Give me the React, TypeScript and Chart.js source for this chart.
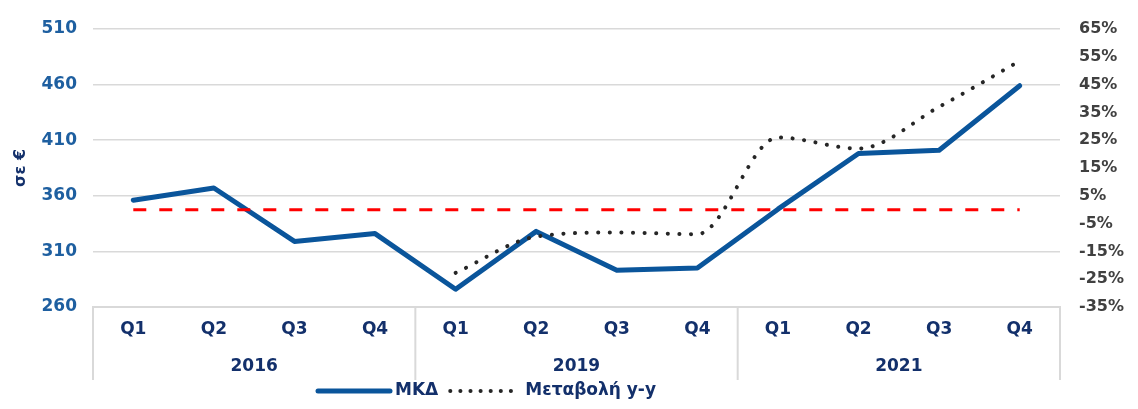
import React, { useEffect, useRef } from "react";
import { Chart, registerables } from "chart.js";

Chart.register(...registerables);

// ---- data ----
const quarters = ["Q1", "Q2", "Q3", "Q4", "Q1", "Q2", "Q3", "Q4", "Q1", "Q2", "Q3", "Q4"];
const years = ["2016", "2019", "2021"];
const mkdValues = [356, 367, 319, 326, 276, 328, 293, 295, 348, 398, 401, 459];
const yoyValues: (number | null)[] = [null, null, null, null, -22.7, -9.7, -8.2, -8.8, 26, 22, 37, 53.5];
const zeroLine = [0, 0, 0, 0, 0, 0, 0, 0, 0, 0, 0, 0];
const leftMin = 260;
const leftMax = 510;
const leftStep = 50;
const rightMin = -35;
const rightMax = 65;
const rightStep = 10;
const mkdLabel = "ΜΚΔ";
const yoyLabel = "Μεταβολή y-y";
const leftTitle = "σε €";

const FONT = "'DejaVu Sans', Verdana, sans-serif";
const NAVY = "#13306B";
const BLUE = "#0A559B";
const LEFT_TICK = "#1E5FA0";
const DOT = "#262626";
const GRID = "#D9D9D9";

const groupPlugin = {
  id: "groupsAndLegend",
  afterDraw(chart: any) {
    const ctx = chart.ctx as CanvasRenderingContext2D;
    const x = chart.scales.x;
    const area = chart.chartArea;
    const per = quarters.length / years.length;
    ctx.save();
    // group separators of the two-level category axis
    ctx.strokeStyle = GRID;
    ctx.lineWidth = 2;
    const sepBottom = area.bottom + 73;
    for (let g = 0; g <= years.length; g++) {
      let px: number;
      if (g === 0) px = area.left;
      else if (g === years.length) px = area.right;
      else px = (x.getPixelForValue(g * per - 1) + x.getPixelForValue(g * per)) / 2;
      ctx.beginPath();
      ctx.moveTo(px, area.bottom);
      ctx.lineTo(px, sepBottom);
      ctx.stroke();
    }
    // year labels
    ctx.fillStyle = NAVY;
    ctx.font = `bold 17px ${FONT}`;
    ctx.textAlign = "center";
    ctx.textBaseline = "middle";
    years.forEach((y, g) => {
      const cx = (x.getPixelForValue(g * per) + x.getPixelForValue(g * per + per - 1)) / 2;
      ctx.fillText(y, cx, area.bottom + 60);
    });
    // left axis title (rotated)
    ctx.save();
    ctx.translate(21, (area.top + area.bottom) / 2);
    ctx.rotate(-Math.PI / 2);
    ctx.font = `bold 16px ${FONT}`;
    ctx.fillStyle = NAVY;
    ctx.textAlign = "center";
    ctx.textBaseline = "middle";
    ctx.fillText(leftTitle, 0, 0);
    ctx.restore();
    // legend
    const ly = 391;
    let lx = 318;
    ctx.strokeStyle = BLUE;
    ctx.lineWidth = 5;
    ctx.lineCap = "round";
    ctx.beginPath();
    ctx.moveTo(lx, ly);
    ctx.lineTo(lx + 72, ly);
    ctx.stroke();
    lx += 77;
    ctx.textAlign = "left";
    ctx.fillStyle = NAVY;
    ctx.font = `bold 17px ${FONT}`;
    ctx.fillText(mkdLabel, lx, ly);
    lx += ctx.measureText(mkdLabel).width + 12;
    ctx.strokeStyle = DOT;
    ctx.lineWidth = 4;
    ctx.setLineDash([0.1, 10]);
    ctx.beginPath();
    ctx.moveTo(lx, ly);
    ctx.lineTo(lx + 62, ly);
    ctx.stroke();
    ctx.setLineDash([]);
    lx += 75;
    ctx.fillText(yoyLabel, lx, ly);
    ctx.restore();
  },
};

export default function App() {
  const ref = useRef<HTMLCanvasElement>(null);
  useEffect(() => {
    if (!ref.current) return;
    const chart = new Chart(ref.current, {
      type: "line",
      data: {
        labels: quarters,
        datasets: [
          {
            label: "zero",
            data: zeroLine,
            yAxisID: "y1",
            borderColor: "#FF0000",
            borderWidth: 3,
            borderDash: [13, 13],
            pointRadius: 0,
            order: 0,
          },
          {
            label: yoyLabel,
            data: yoyValues,
            yAxisID: "y1",
            borderColor: DOT,
            borderWidth: 4,
            borderDash: [0.1, 11.5],
            borderCapStyle: "round",
            cubicInterpolationMode: "monotone",
            pointRadius: 0,
            order: 1,
          },
          {
            label: mkdLabel,
            data: mkdValues,
            yAxisID: "y",
            borderColor: BLUE,
            borderWidth: 5,
            borderCapStyle: "round",
            borderJoinStyle: "round",
            tension: 0,
            pointRadius: 0,
            order: 2,
          },
        ],
      },
      options: {
        animation: false,
        responsive: false,
        maintainAspectRatio: false,
        layout: { padding: { top: 29, left: 0, right: 0, bottom: 0 } },
        plugins: { legend: { display: false }, tooltip: { enabled: false } },
        scales: {
          x: {
            offset: true,
            grid: { display: false, drawTicks: false },
            border: { display: true, color: GRID, width: 2 },
            ticks: {
              color: NAVY,
              font: { family: FONT, size: 17, weight: "bold" },
              padding: 12,
              maxRotation: 0,
              autoSkip: false,
            },
            afterFit: (s: any) => {
              s.height = 102;
            },
          },
          y: {
            position: "left",
            min: leftMin,
            max: leftMax,
            grid: { color: GRID, lineWidth: 1.5, drawTicks: false },
            border: { display: false },
            ticks: {
              stepSize: leftStep,
              color: LEFT_TICK,
              font: { family: FONT, size: 17, weight: "bold" },
              padding: 16,
            },
            afterFit: (s: any) => {
              s.width = 93;
            },
          },
          y1: {
            position: "right",
            min: rightMin,
            max: rightMax,
            grid: { display: false, drawTicks: false },
            border: { display: false },
            ticks: {
              stepSize: rightStep,
              color: "#404040",
              font: { family: FONT, size: 16, weight: "bold" },
              padding: 19,
              callback: (v: any) => `${v}%`,
            },
            afterFit: (s: any) => {
              s.width = 78;
            },
          },
        },
      },
      plugins: [groupPlugin],
    });
    return () => chart.destroy();
  }, []);
  return (
    <div style={{ position: "absolute", left: 0, top: 0, width: 1138, height: 409 }}>
      <canvas ref={ref} width={1138} height={409} style={{ display: "block" }} />
    </div>
  );
}
